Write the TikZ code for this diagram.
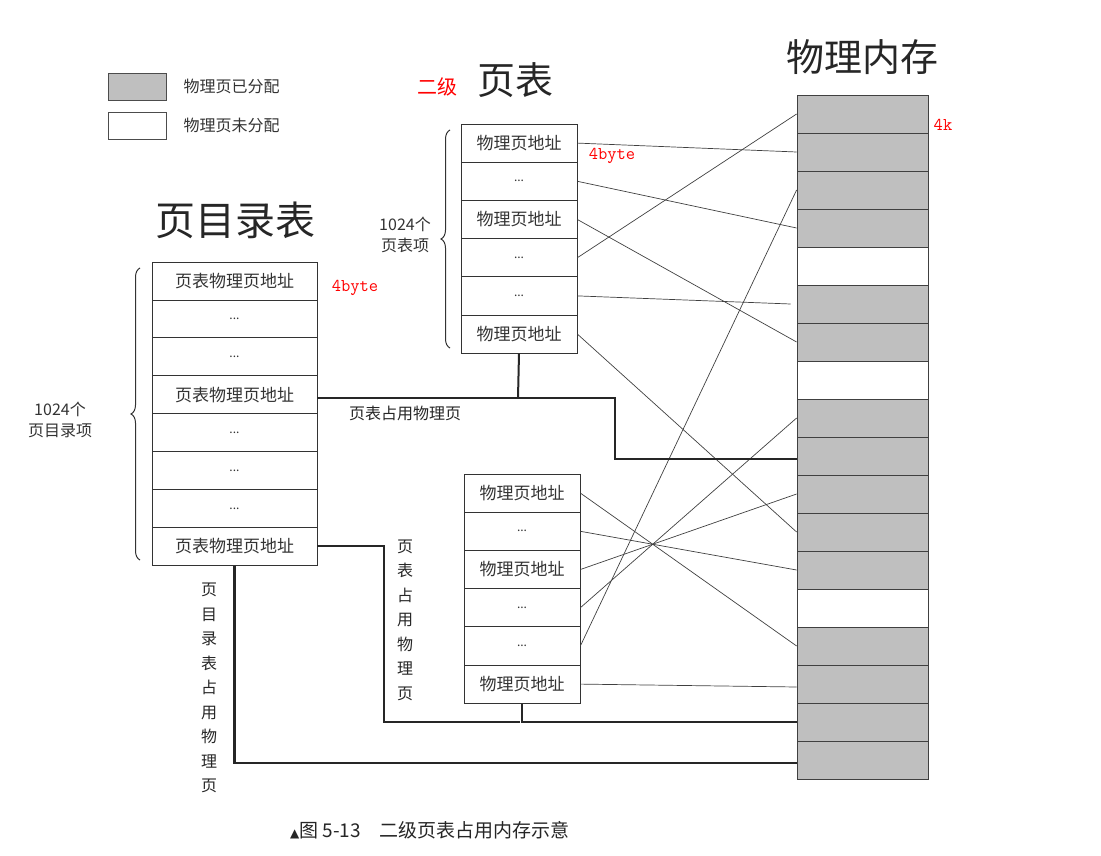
\documentclass[tikz,border=0pt]{standalone}
\usepackage{fontspec}
\setmainfont{Noto Sans CJK SC}
\usetikzlibrary{decorations.pathreplacing}
\newcommand\mydots{{\fontsize{12}{12}\selectfont ...}}
\begin{document}
\begin{tikzpicture}[x=1pt,y=-1pt,
  cell/.style={draw=black!80,line width=0.8pt,minimum width=#1,minimum height=37.9pt,inner sep=0pt,font=\fontsize{17}{17}\selectfont,text=black!80},
  ln/.style={draw=black!75,line width=0.7pt},
  thick1/.style={draw=black!85,line width=2pt},
  mem/.style={draw=black!75,line width=0.8pt,minimum width=131pt,minimum height=38pt,inner sep=0pt},
  red/.style={text=red,font=\ttfamily\fontsize{18}{18}\selectfont},
  brace/.style={decorate,decoration={brace,amplitude=9pt},line width=1pt,draw=black!80}]
\useasboundingbox (0,0) rectangle (1101,856);
% legend
\node[draw=black!70,fill=black!25,minimum width=58pt,minimum height=27pt,inner sep=0pt] (lg1) at (137,86.5) {};
\node[draw=black!70,minimum width=58pt,minimum height=27pt,inner sep=0pt] (lg2) at (137,125.5) {};
\node[anchor=west,font=\fontsize{16}{16}\selectfont,text=black!80] (lt1) at (180,86) {物理页已分配};
\node[anchor=west,font=\fontsize{16}{16}\selectfont,text=black!80] (lt2) at (180,125) {物理页未分配};
% titles
\node[font=\fontsize{40}{40}\selectfont,text=black!85] (t1) at (235,220) {页目录表};
\node[font=\fontsize{38}{38}\selectfont,text=black!85] (t2) at (515,80) {页表};
\node[font=\fontsize{20}{20}\selectfont,text=red] (t2b) at (437,87) {二级};
\node[font=\fontsize{38}{38}\selectfont,text=black!85] (t3) at (862,57) {物理内存};
% directory
\foreach \i/\t in {1/页表物理页地址,2/\mydots,3/\mydots,4/页表物理页地址,5/\mydots,6/\mydots,7/\mydots,8/页表物理页地址}
  \node[cell=165pt] (d\i) at (234.5,{262+37.9*(\i-0.5)}) {\t};
% upper page table
\foreach \i/\t in {1/物理页地址,2/\mydots,3/物理页地址,4/\mydots,5/\mydots,6/物理页地址}
  \node[cell=116pt,minimum height=38.2pt] (u\i) at (519,{124+38.2*(\i-0.5)}) {\t};
% lower page table
\foreach \i/\t in {1/物理页地址,2/\mydots,3/物理页地址,4/\mydots,5/\mydots,6/物理页地址}
  \node[cell=116pt,minimum height=38.2pt] (l\i) at (522,{474+38.2*(\i-0.5)}) {\t};
% memory
\foreach \i in {1,...,18}{
  \ifnum\i=5 \def\fc{white}\else\ifnum\i=8 \def\fc{white}\else\ifnum\i=14 \def\fc{white}\else\def\fc{black!25}\fi\fi\fi
  \node[mem,fill=\fc] (m\i) at (862.5,{95+38*(\i-0.5)}) {};
}
% red labels
\node[red] (r1) at (355,288) {4byte};
\node[red] (r2) at (612,156) {4byte};
\node[red] (r3) at (943,125) {4k};
% braces
\draw[brace] (140,560) -- (140,268) node[coordinate] (bd) {};
\draw[brace] (450,348) -- (450,130) node[coordinate] (bu) {};
\node[align=center,font=\fontsize{16}{21}\selectfont,text=black!80] (bl1) at (60,420) {1024个\\页目录项};
\node[align=center,font=\fontsize{16}{21}\selectfont,text=black!80] (bl2) at (405,235) {1024个\\页表项};
% connectors upper
\draw[ln] (u1.east) -- (m2.west);
\draw[ln] (u2.east) -- (m4.west);
\draw[ln] (u3.east) -- (m7.west);
\draw[ln] (u4.east) -- (m1.west);
\draw[ln] (u5.east) -- ([xshift=-6pt]m6.west);
\draw[ln] (u6.east) -- (m12.west);
% connectors lower
\draw[ln] (l1.east) -- (m15.west);
\draw[ln] (l2.east) -- (m13.west);
\draw[ln] (l3.east) -- (m11.west);
\draw[ln] (l4.east) -- (m9.west);
\draw[ln] (l5.east) -- (m3.west);
\draw[ln] (l6.east) -- ([yshift=-3pt]m16.west);
% thick occupancy lines
\coordinate (j1) at (518,398);
\coordinate (k1) at (797,459);
\draw[thick1] (u6.south) -- (j1);
\draw[thick1] (d4.east |- j1) -- (j1) -| (615,459) -- (k1);
\draw[thick1,line width=1.6pt] (l6.south) |- (m17.west);
\draw[thick1,line width=1.6pt] (d8.east) -| (384,722) -- (520,722);
\coordinate (k2) at (797,763);
\draw[thick1,line width=2.6pt] (d8.south) |- (k2);
% occupancy labels
\node[font=\fontsize{16}{16}\selectfont,text=black!85] (o1) at (405,413) {页表占用物理页};
\node[align=center,font=\fontsize{16}{24.5}\selectfont,text=black!85] (o2) at (405,620) {页\\表\\占\\用\\物\\理\\页};
\node[align=center,font=\fontsize{16}{24.5}\selectfont,text=black!85] (o3) at (209,688) {页\\目\\录\\表\\占\\用\\物\\理\\页};
% caption
\node[font=\fontsize{19}{19}\selectfont,text=black!85] (cap) at (430,830) {{\fontspec{DejaVu Sans}\fontsize{12}{12}\selectfont ▲}图 5-13\quad 二级页表占用内存示意};
\end{tikzpicture}
\end{document}
